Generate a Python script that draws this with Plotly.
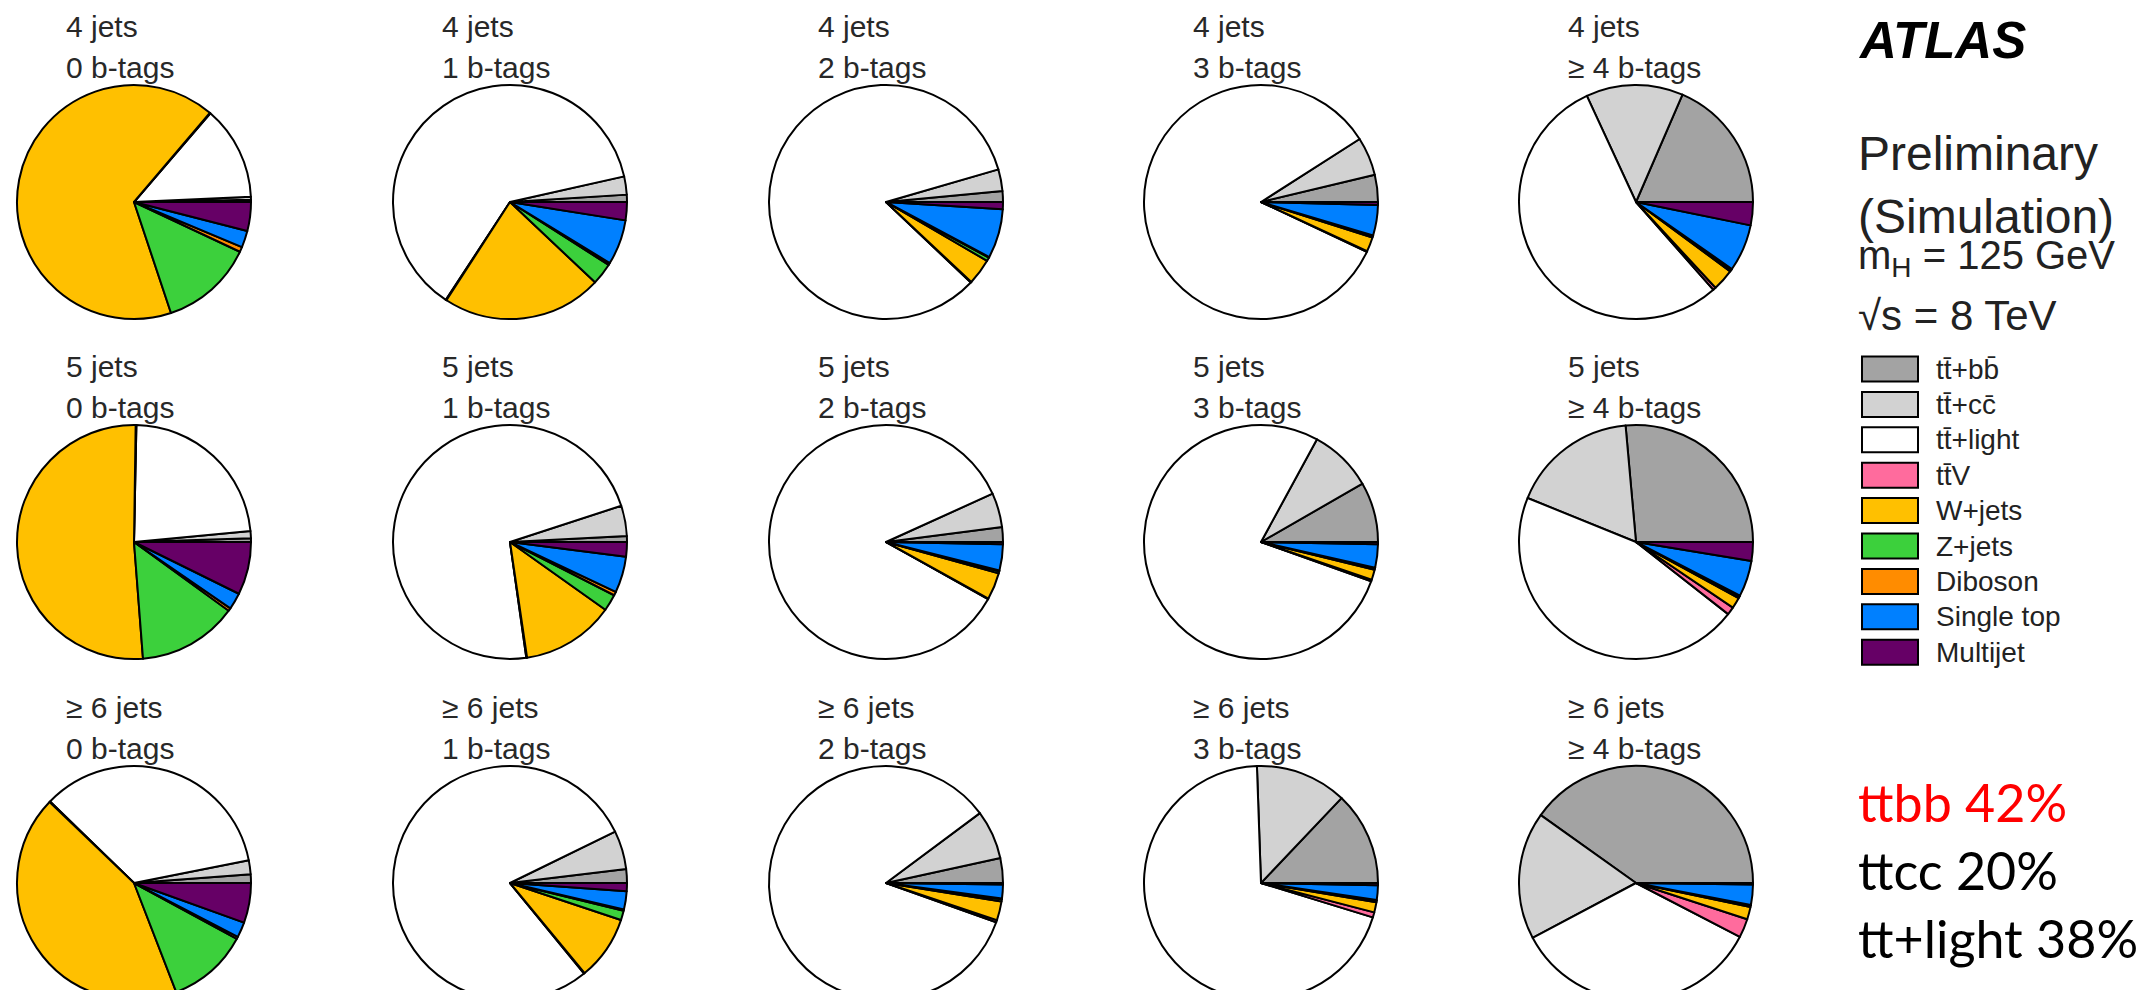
import plotly.graph_objects as go

W, H = 2152, 990          # screenshot size
OFF = 8                   # default body margin of the page
WF, HF = W - OFF, 1002    # figure size (bottom row of pies is clipped by the window, as in the reference)

processes = ["tt̄+bb̄", "tt̄+cc̄", "tt̄+light", "tt̄V", "W+jets", "Z+jets",
             "Diboson", "Single top", "Multijet"]
colors = ["#a3a3a3", "#d2d2d2", "#ffffff", "#ff6b9d", "#ffc000", "#3cd03c",
          "#ff8c00", "#0080ff", "#660066"]

jet_labels = ["4 jets", "5 jets", "≥ 6 jets"]
btag_labels = ["0 b-tags", "1 b-tags", "2 b-tags", "3 b-tags", "≥ 4 b-tags"]

# fractions (%) per region, order: ttbb, ttcc, ttlight, ttV, W, Z, Diboson, Single top, Multijet
frac_4j_0b = [0.3, 0.4, 13.0, 0.1, 66.4, 12.9, 0.7, 2.3, 4.0]
frac_4j_1b = [1.0, 2.5, 62.0, 0.1, 22.0, 3.0, 0.3, 6.2, 2.5]
frac_4j_2b = [1.5, 3.0, 83.5, 0.1, 3.6, 0.5, 0.1, 6.8, 1.0]
frac_4j_3b = [3.75, 5.3, 83.9, 0.1, 2.0, 0.2, 0.1, 4.2, 0.4]
frac_4j_4b = [18.5, 13.4, 54.6, 0.4, 3.0, 0.3, 0.1, 6.5, 3.2]
frac_5j_0b = [0.5, 1.0, 23.2, 0.1, 51.5, 13.8, 0.4, 2.3, 7.3]
frac_5j_1b = [0.8, 4.2, 72.0, 0.1, 12.8, 2.3, 0.5, 5.0, 2.0]
frac_5j_2b = [2.05, 4.7, 84.7, 0.1, 3.7, 0.3, 0.1, 3.6, 0.3]
frac_5j_3b = [8.25, 8.7, 77.0, 0.2, 1.4, 0.2, 0.1, 3.2, 0.3]
frac_5j_4b = [26.5, 17.5, 45.7, 1.1, 1.5, 0.3, 0.1, 5.0, 2.6]
frac_6j_0b = [1.2, 1.9, 34.6, 0.1, 43.0, 11.2, 0.3, 2.1, 5.5]
frac_6j_1b = [1.9, 5.3, 78.2, 0.1, 8.8, 1.3, 0.2, 2.5, 1.1]
frac_6j_2b = [3.4, 6.7, 83.7, 0.3, 2.6, 0.3, 0.1, 1.9, 0.2]
frac_6j_3b = [12.8, 12.5, 69.0, 0.7, 1.4, 0.2, 0.1, 2.0, 0.3]
frac_6j_4b = [40.1, 17.6, 34.6, 2.6, 1.7, 0.2, 0.1, 2.8, 0.2]

regions = [
    [frac_4j_0b, frac_4j_1b, frac_4j_2b, frac_4j_3b, frac_4j_4b],
    [frac_5j_0b, frac_5j_1b, frac_5j_2b, frac_5j_3b, frac_5j_4b],
    [frac_6j_0b, frac_6j_1b, frac_6j_2b, frac_6j_3b, frac_6j_4b],
]

summary_labels = ["ttbb 42%", "ttcc 20%", "tt+light 38%"]
summary_colors = ["#ff0000", "#000000", "#000000"]

# layout (pixels in the screenshot)
col_cx = [134, 510, 886, 1261, 1636]
row_cy = [202, 542, 883]
R = 117
FONT = "Liberation Sans, Arial, Helvetica"


def px(x):
    return (x - OFF) / WF


def py(y):
    return 1 - (y - OFF) / HF


fig = go.Figure()
annotations = []
shapes = []

for ri, row in enumerate(regions):
    for ci, vals in enumerate(row):
        cx, cy, r = col_cx[ci], row_cy[ri], R
        # plotly draws the first slice clockwise of `rotation` when counterclockwise;
        # shift so that slices start at 3 o'clock and run counterclockwise
        rot = 90 - 360.0 * vals[0] / sum(vals)
        fig.add_trace(go.Pie(
            labels=processes, values=vals, sort=False,
            direction="counterclockwise", rotation=rot,
            marker=dict(colors=colors, line=dict(color="black", width=2)),
            textinfo="none", hoverinfo="label+percent", showlegend=False,
            domain=dict(x=[px(cx - r), px(cx + r)], y=[py(cy + r), py(cy - r)]),
        ))
        lx = cx - 70
        annotations.append(dict(x=px(lx), y=py(cy - 176), text=jet_labels[ri],
                                xanchor="left", yanchor="middle", showarrow=False,
                                font=dict(size=30, color="#282828", family=FONT)))
        annotations.append(dict(x=px(lx), y=py(cy - 135), text=btag_labels[ci],
                                xanchor="left", yanchor="middle", showarrow=False,
                                font=dict(size=30, color="#282828", family=FONT)))

# right panel
tx = 1856
annotations += [
    dict(x=px(tx), y=py(41), text="<b><i>ATLAS</i></b>", xanchor="left", yanchor="middle",
         showarrow=False, font=dict(size=51, color="black", family=FONT)),
    dict(x=px(tx), y=py(154), text="Preliminary", xanchor="left", yanchor="middle",
         showarrow=False, font=dict(size=48, color="#222", family=FONT)),
    dict(x=px(tx), y=py(217), text="(Simulation)", xanchor="left", yanchor="middle",
         showarrow=False, font=dict(size=48, color="#222", family=FONT)),
    dict(x=px(tx), y=py(258), text="m<sub>H</sub> = 125 GeV", xanchor="left", yanchor="middle",
         showarrow=False, font=dict(size=40, color="#222", family=FONT)),
    dict(x=px(tx), y=py(315), text="√s = 8 TeV", xanchor="left", yanchor="middle",
         showarrow=False, font=dict(size=42, color="#222", family=FONT)),
]

leg_y0 = 369
leg_dy = 35.4
for i, (lab, col) in enumerate(zip(processes, colors)):
    yc = leg_y0 + i * leg_dy
    shapes.append(dict(type="rect", xref="paper", yref="paper",
                       x0=px(1862), x1=px(1918), y0=py(yc + 12.5), y1=py(yc - 12.5),
                       fillcolor=col, line=dict(color="black", width=2)))
    annotations.append(dict(x=px(1934), y=py(yc), text=lab, xanchor="left", yanchor="middle",
                            showarrow=False,
                            font=dict(size=28, color="#222", family="Liberation Sans, DejaVu Sans")))

for i, (lab, col) in enumerate(zip(summary_labels, summary_colors)):
    annotations.append(dict(x=px(1856), y=py(802 + i * 68), text=lab, xanchor="left",
                            yanchor="middle", showarrow=False,
                            font=dict(size=52, color=col, family="Lato, Open Sans")))

fig.update_layout(width=WF, height=HF, margin=dict(l=0, r=0, t=0, b=0),
                  paper_bgcolor="white", plot_bgcolor="white",
                  annotations=annotations, shapes=shapes)

fig.write_html("out.html")
